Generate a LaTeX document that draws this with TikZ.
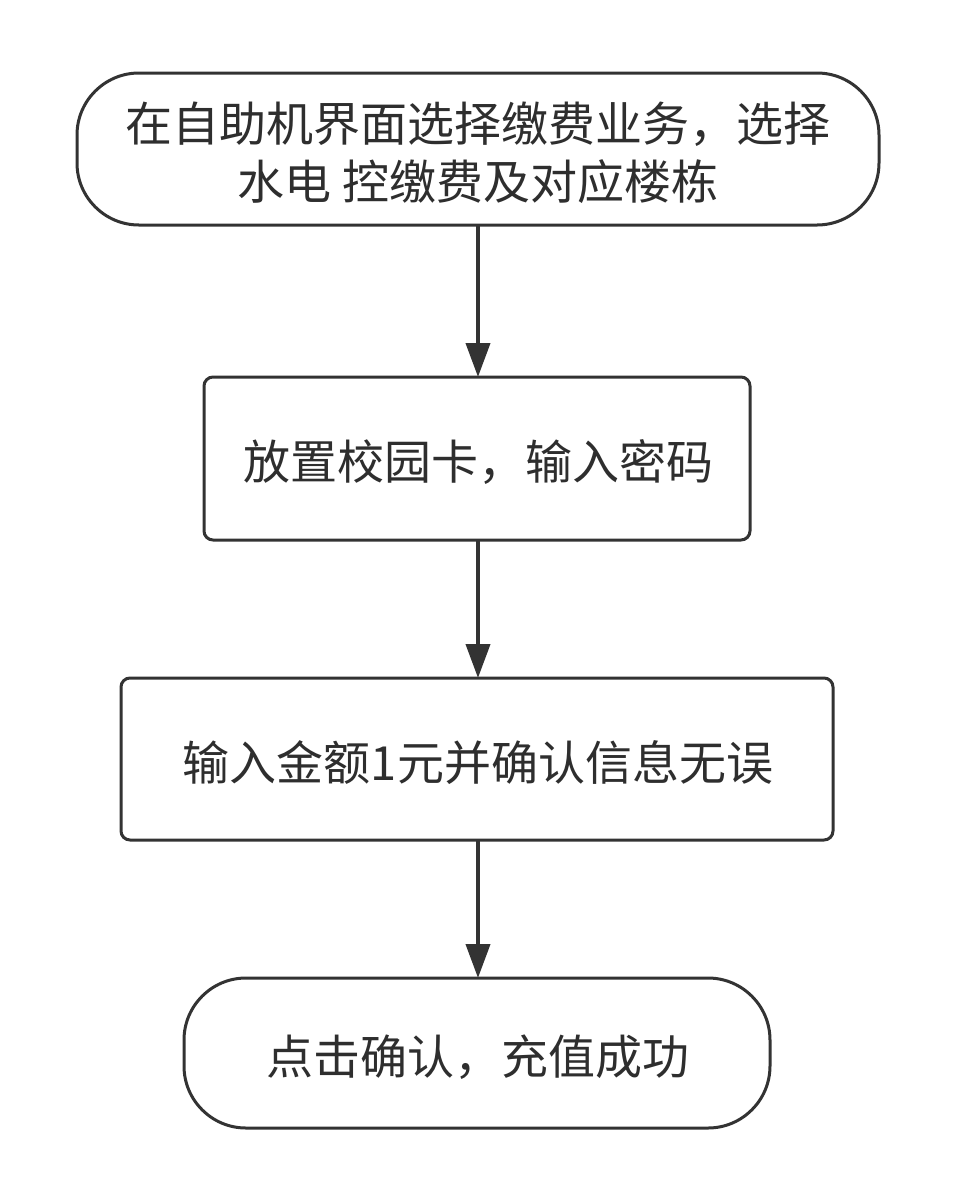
\documentclass[tikz,border=0pt]{standalone}
\usepackage{fontspec}
\setmainfont{Noto Sans CJK SC}
\usetikzlibrary{arrows.meta}
\definecolor{ink}{HTML}{333333}
\begin{document}
\begin{tikzpicture}
    [x=1pt, y=-1pt,
    tsty/.style={draw=ink, line width=3pt, rounded corners=62pt, fill=white},
    psty/.style={draw=ink, line width=3pt, rounded corners=9pt, fill=white},
    lsty/.style={font=\fontsize{47}{58}\selectfont, align=center, text=ink!90!black},
    asty/.style={-{Triangle[length=34pt, width=24pt]}, draw=ink, line width=4pt}]
    \useasboundingbox (0,0) rectangle (954,1203);
    % shapes
    \draw[tsty] (77,73) rectangle (879,225);
    \draw[psty] (204,377) rectangle (750,540);
    \draw[psty] (121,678) rectangle (833,840);
    \draw[tsty] (184,978) rectangle (770,1128);
    % nodes
    \node[lsty] (start) at (478,153) {在自助机界面选择缴费业务，选择\\水电 控缴费及对应楼栋};
    \node[lsty] (card)  at (478,462) {放置校园卡，输入密码};
    \node[lsty] (pay)   at (478,763) {输入金额1元并确认信息无误};
    \node[lsty] (done)  at (478,1057) {点击确认，充值成功};
    % edges
    \coordinate (s1) at (478,225); \coordinate (e1) at (478,377);
    \coordinate (s2) at (478,540); \coordinate (e2) at (478,678);
    \coordinate (s3) at (478,840); \coordinate (e3) at (478,978);
    \draw[asty] (s1) -- (e1);
    \draw[asty] (s2) -- (e2);
    \draw[asty] (s3) -- (e3);
\end{tikzpicture}
\end{document}
